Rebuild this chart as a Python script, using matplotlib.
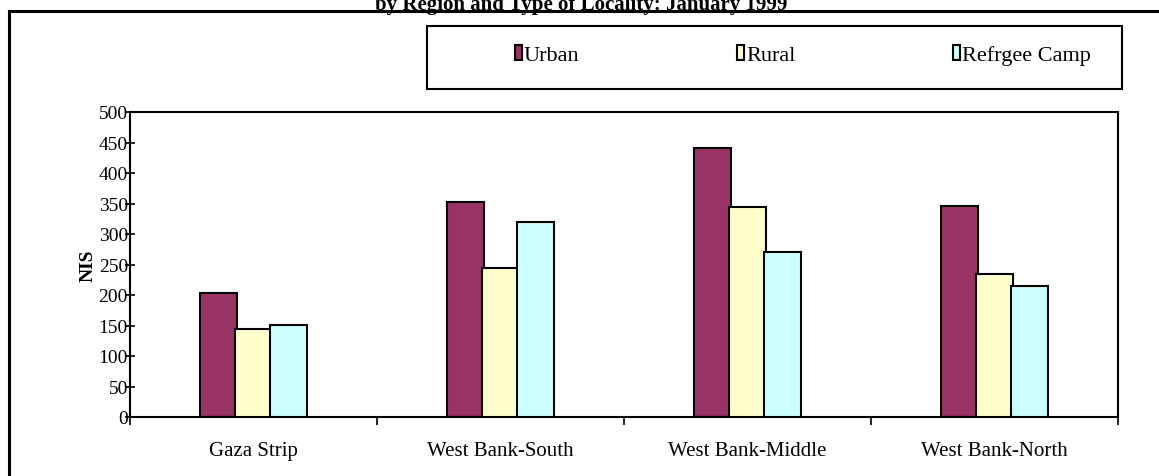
#Average monthly wage by region and type of locality

#Importing the libraries
import numpy as np
import matplotlib.pyplot as plt
from matplotlib.lines import Line2D
from matplotlib.patches import Rectangle

#Data
regions = ['Gaza Strip', 'West Bank-South', 'West Bank-Middle', 'West Bank-North']
urban = [204, 352, 441, 346]
rural = [144, 244, 344, 234]
camp = [151, 320, 270, 214]
series_names = ['Urban', 'Rural', 'Refrgee Camp']
series_colors = ['#993366', '#FFFFCC', '#CCFFFF']
y_ticks = list(range(0, 501, 50))

plt.rcParams['font.family'] = ['Liberation Serif', 'DejaVu Serif']

W, H = 1159, 477
fig = plt.figure(figsize=(W / 100, H / 100), dpi=100)
ax = fig.add_axes([130 / W, 1 - 418 / H, (1118 - 130) / W, (418 - 113) / H])

#Grouped bars, each series slightly overlapping the previous one
x = np.arange(len(regions))
width = 0.152
step = 0.142
bars = []
for i, (vals, col) in enumerate(zip([urban, rural, camp], series_colors)):
    b = ax.bar(x + (i - 1) * step, vals, width, color=col, edgecolor='black',
               linewidth=1.5, label=series_names[i], zorder=2 + i)
    bars.append(b)

ax.set_xlim(-0.5, len(regions) - 0.5)
ax.set_ylim(0, 500)
ax.set_yticks(y_ticks)
ax.set_xticks(x)
ax.set_xticklabels(regions, fontsize=15)
ax.set_xticks(np.arange(-0.5, len(regions)), minor=True)
ax.tick_params(axis='x', which='major', length=0, pad=17)
ax.tick_params(axis='x', which='minor', direction='out', length=6, width=1.2)
ax.tick_params(axis='y', direction='inout', length=7, width=1.2, labelsize=14, pad=-2)
for s in ax.spines.values():
    s.set_linewidth(1.5)
ax.set_ylabel('NIS', fontsize=14, fontweight='bold')
ax.yaxis.set_label_coords(-0.0334, 0.5)

#Outer frame of the chart area
fig.add_artist(Line2D([9 / W, 9 / W], [0, 1 - 12 / H], color='black', linewidth=2.2))
fig.add_artist(Line2D([9 / W, 1], [1 - 12 / H, 1 - 12 / H], color='black', linewidth=2.2))

#Title, partly cut off by the top edge
fig.text(581 / W, 1 - 10 / H, 'by Region and Type of Locality: January 1999',
         ha='center', va='baseline', fontsize=15, fontweight='bold')

#Legend box
fig.add_artist(Rectangle((427 / W, 1 - 90 / H), (1122 - 427) / W, (90 - 27) / H,
                         transform=fig.transFigure, fill=False, edgecolor='black', linewidth=1.5))
fig.legend(handles=bars, labels=series_names, loc='center left',
           bbox_to_anchor=(515 / W, 1 - 56 / H), ncol=3, frameon=False,
           handlelength=0.32, handleheight=0.68, handletextpad=0.08,
           columnspacing=7.1, borderpad=0, borderaxespad=0, fontsize=16)

plt.savefig('out.png', dpi=100)
